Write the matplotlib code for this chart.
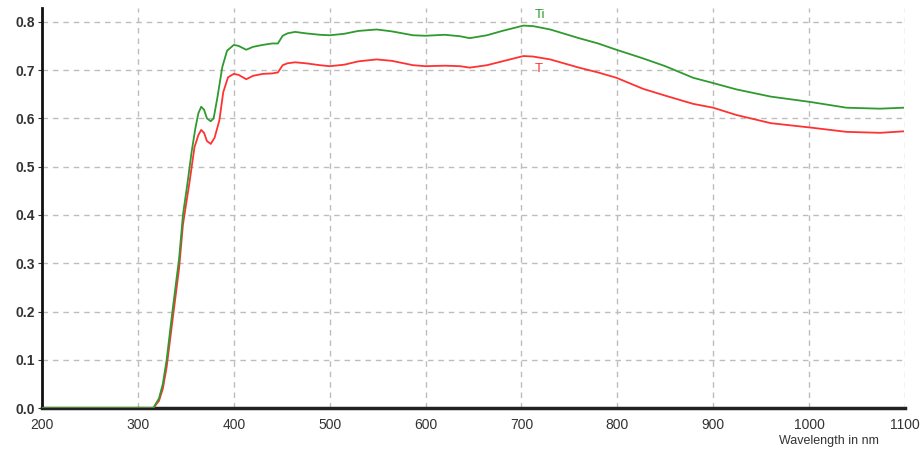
import matplotlib

matplotlib.use("Agg")
import matplotlib.pyplot as plt

# transmission spectra
ti_wavelength = [200, 250, 300, 316, 322, 326, 330, 336, 343, 347, 352, 356, 360, 363, 366, 369, 372,
                 376, 379, 383, 388, 393, 400, 405, 413, 420, 430, 440, 446, 451, 456, 464, 475, 490,
                 500, 515, 530, 549, 565, 587, 600, 620, 636, 646, 664, 680, 702, 712, 730, 760, 780,
                 799, 827, 850, 879, 900, 924, 960, 1001, 1039, 1074, 1098]
ti_values = [0.0, 0.0, 0.0, 0.0, 0.02, 0.05, 0.10, 0.20, 0.31, 0.40, 0.47, 0.53, 0.58, 0.61, 0.624,
             0.618, 0.60, 0.594, 0.60, 0.644, 0.706, 0.74, 0.752, 0.750, 0.742, 0.748, 0.752, 0.755,
             0.755, 0.771, 0.776, 0.779, 0.776, 0.773, 0.772, 0.775, 0.781, 0.784, 0.780, 0.772,
             0.771, 0.773, 0.770, 0.766, 0.772, 0.781, 0.792, 0.791, 0.784, 0.766, 0.755, 0.742,
             0.724, 0.708, 0.684, 0.673, 0.660, 0.645, 0.634, 0.622, 0.620, 0.622]

t_wavelength = [200, 250, 300, 316, 322, 326, 330, 336, 343, 347, 354, 359, 363, 366, 369, 372, 376,
                380, 385, 389, 394, 400, 405, 413, 420, 430, 440, 446, 451, 456, 464, 475, 490, 500,
                515, 530, 549, 565, 587, 600, 620, 636, 646, 664, 680, 702, 712, 730, 760, 780, 799,
                827, 850, 879, 900, 924, 960, 1001, 1039, 1074, 1098]
t_values = [0.0, 0.0, 0.0, 0.0, 0.015, 0.04, 0.085, 0.18, 0.29, 0.38, 0.47, 0.54, 0.565, 0.576,
            0.570, 0.553, 0.547, 0.56, 0.596, 0.654, 0.685, 0.692, 0.690, 0.681, 0.688, 0.692,
            0.693, 0.695, 0.710, 0.714, 0.716, 0.714, 0.710, 0.708, 0.711, 0.718, 0.722, 0.719,
            0.710, 0.708, 0.709, 0.708, 0.705, 0.710, 0.718, 0.729, 0.728, 0.722, 0.705, 0.695,
            0.684, 0.661, 0.647, 0.630, 0.622, 0.607, 0.590, 0.581, 0.572, 0.570, 0.573]

x_ticks = [200, 300, 400, 500, 600, 700, 800, 900, 1000, 1100]
y_ticks = [0.0, 0.1, 0.2, 0.3, 0.4, 0.5, 0.6, 0.7, 0.8]

GREEN = "#2f9a2f"
RED = "#ff3232"
TEXT = "#333333"

plt.rcParams["font.family"] = ["Liberation Sans", "DejaVu Sans"]

fig = plt.figure(figsize=(9.23, 4.57), dpi=100)
ax = fig.add_axes([0.0455, 0.107, 0.935, 0.875])

for x in x_ticks:
    ax.axvline(x, color="#bdbdbd", linewidth=1.0, dashes=(4, 3.5), zorder=1)
for y in y_ticks[1:]:
    ax.axhline(y, color="#bdbdbd", linewidth=1.0, dashes=(4, 3.5), zorder=1)

ax.plot(t_wavelength, t_values, color=RED, linewidth=1.3, zorder=3)
ax.plot(ti_wavelength, ti_values, color=GREEN, linewidth=1.3, zorder=4)

ax.text(719, 0.815, "Ti", color=GREEN, fontsize=9.5, ha="center", va="center")
ax.text(718, 0.702, "T", color=RED, fontsize=9.5, ha="center", va="center")

ax.set_xlim(200, 1100)
ax.set_ylim(0, 0.828)
ax.set_xticks(x_ticks)
ax.set_xticklabels([str(v) for v in x_ticks], fontsize=10, color=TEXT)
ax.set_yticks(y_ticks)
ax.set_yticklabels([f"{v:.1f}" for v in y_ticks], fontsize=10, fontweight="bold", color="#444444")
ax.tick_params(axis="y", length=3, width=0.8, colors=TEXT, pad=2)
ax.tick_params(axis="x", length=0, pad=7, colors=TEXT)

for side in ("top", "right"):
    ax.spines[side].set_visible(False)
ax.spines["left"].set_linewidth(2.0)
ax.spines["bottom"].set_linewidth(2.5)
ax.spines["left"].set_color("#111111")
ax.spines["bottom"].set_color("#222222")

fig.text(0.898, 0.035, "Wavelength in nm", fontsize=9, color=TEXT, ha="center", va="center")

fig.savefig("out.png", dpi=100)
plt.close(fig)
